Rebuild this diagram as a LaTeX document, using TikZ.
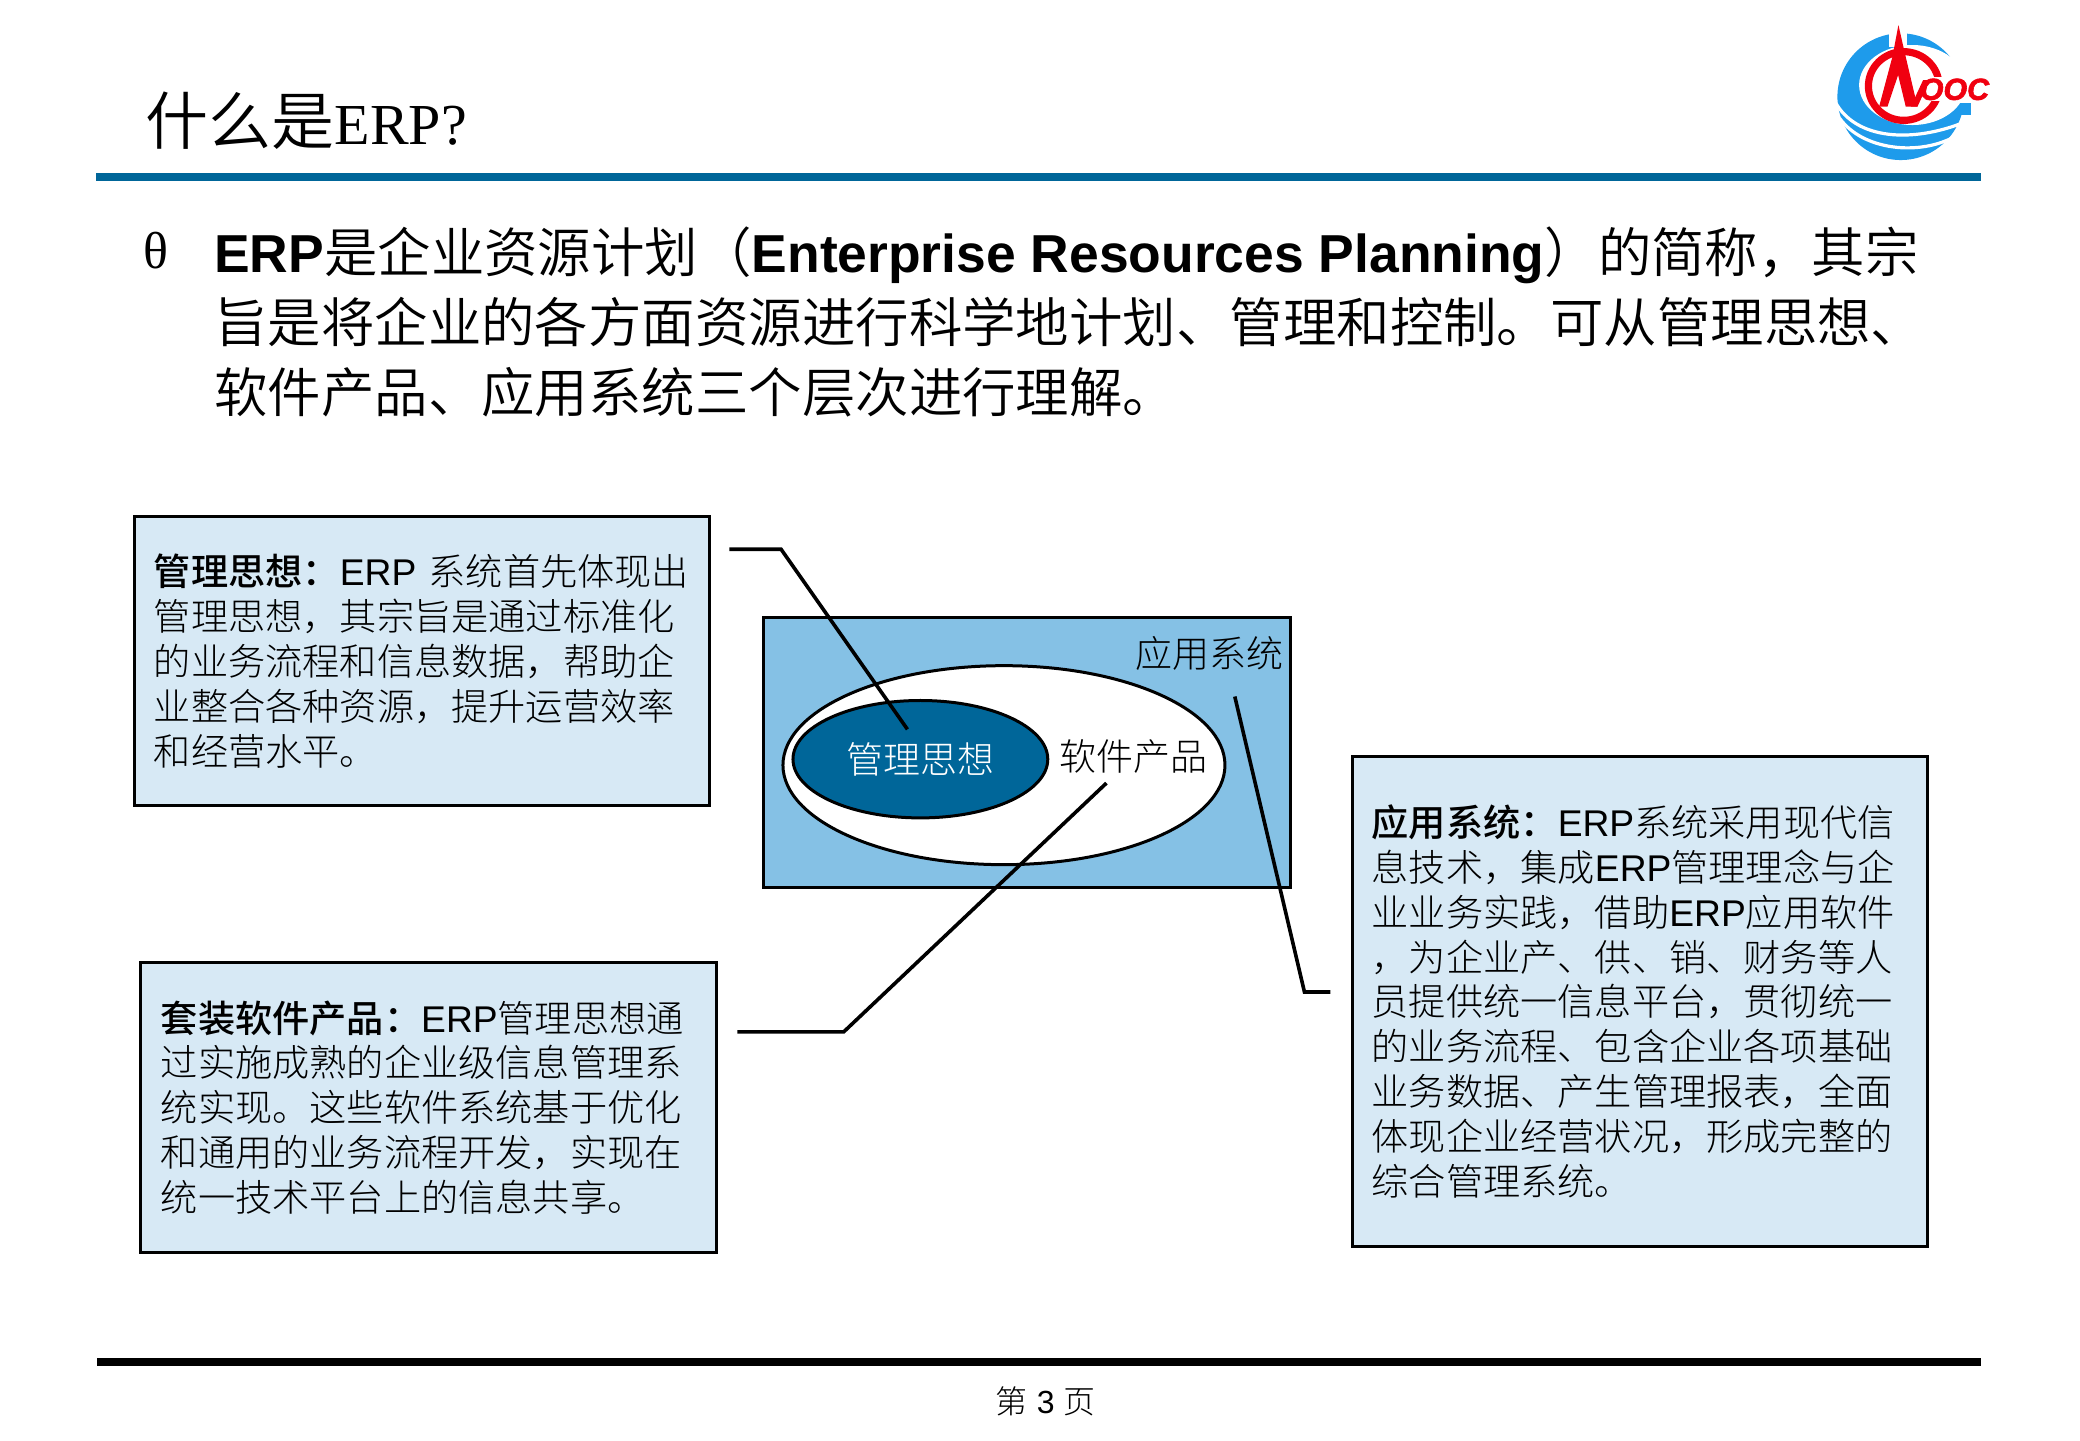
\documentclass[tikz,border=0pt]{standalone}
\usepackage{fontspec}
\setmainfont{Liberation Sans}
\newfontfamily\cjk{Noto Sans CJK SC Light}
\newfontfamily\cjkd{Noto Sans CJK SC DemiLight}
\newfontfamily\cjkb{Noto Sans CJK SC Medium}
\newfontfamily\serifl{Liberation Serif}
\newfontfamily\logofont[FakeBold=2]{Liberation Sans Bold Italic}
\newcommand{\C}[1]{{\cjk #1}}
\newcommand{\D}[1]{{\cjkd #1}}
\newcommand{\CB}[1]{{\cjkb #1}}
\definecolor{deepblue}{HTML}{006699}
\definecolor{midblue}{HTML}{85C1E5}
\definecolor{paleblue}{HTML}{D7E9F5}
\definecolor{logoblue}{HTML}{1E9BEB}
\definecolor{logored}{HTML}{F00010}
\tikzset{
  note/.style={draw=black,line width=1.6pt,fill=paleblue,rectangle,inner sep=0pt,align=left,
    font=\fontsize{18.6}{22.4}\selectfont},
  link/.style={draw=black,line width=1.8pt,line join=miter},
  blob/.style={draw=black,line width=1.5pt,ellipse},
  caption/.style={inner sep=0pt,font=\fontsize{18.5}{22}\selectfont}
}
\usetikzlibrary{shapes.geometric}
\begin{document}
\begin{tikzpicture}[x=0.4975pt,y=-0.4975pt]
\useasboundingbox (0,0) rectangle (2090.45,1447.24);
\fill[white] (0,0) rectangle (2090.45,1447.24);
% title
\node[anchor=base west,inner sep=0pt] (title) at (146,145)
  {\fontsize{31.5}{36}\selectfont\D{什么是}\serifl\fontsize{29}{36}\selectfont ERP?};
\fill[deepblue] (96,174) rectangle (1991,182);
\fill[black] (97,1365) rectangle (1991,1373);
\node[inner sep=0pt] (page) at (1051,1408) {\fontsize{16}{18}\selectfont\C{第} 3 \C{页}};
% bullet
\node[anchor=base west,inner sep=0pt] (bullet) at (144,270) {\serifl\fontsize{26}{30}\selectfont θ};
\node[anchor=west,inner sep=0pt,align=left,font=\fontsize{26.72}{35.2}\selectfont] (intro) at (215,323.5)
 {\textbf{ERP}\D{是企业资源计划（}\textbf{Enterprise Resources Planning}\D{）的简称，其宗}\\
  \D{旨是将企业的各方面资源进行科学地计划、管理和控制。可从管理思想、}\\
  \D{软件产品、应用系统三个层次进行理解。}};
% diagram
\node[draw=black,line width=1.5pt,fill=midblue,minimum width=263.7pt,minimum height=134.8pt,inner sep=0pt] (app) at (1032,756.5) {};
\node[blob,fill=white,minimum width=221pt,minimum height=99.5pt,inner sep=0pt] (soft) at (1009,769) {};
\node[blob,fill=deepblue,minimum width=127.4pt,minimum height=58.7pt,inner sep=0pt] (idea) at (925,763) {};
\node[caption,text=white] (ideal) at (925,763) {\C{管理思想}};
\node[caption] (softl) at (1139,760) {\C{软件产品}};
\node[caption] (appl) at (1216,657) {\C{应用系统}};
% notes
\node[note,minimum width=287.5pt,minimum height=144.8pt,text width=268pt,yshift=-0.2pt] (n1) at (424,664)
 {\CB{管理思想：}ERP~\C{系统首先体现出}\\
  \C{管理思想，其宗旨是通过标准化}\\
  \C{的业务流程和信息数据，帮助企}\\
  \C{业整合各种资源，提升运营效率}\\
  \C{和经营水平。}};
\node[note,minimum width=288pt,minimum height=144.8pt,text width=268pt] (n2) at (431,1113)
 {\CB{套装软件产品：}ERP\C{管理思想通}\\
  \C{过实施成熟的企业级信息管理系}\\
  \C{统实现。这些软件系统基于优化}\\
  \C{和通用的业务流程开发，实现在}\\
  \C{统一技术平台上的信息共享。}};
\node[note,minimum width=287.5pt,minimum height=244.8pt,text width=268pt] (n3) at (1648,1006.5)
 {\CB{应用系统：}ERP\C{系统采用现代信}\\
  \C{息技术，集成}ERP\C{管理理念与企}\\
  \C{业业务实践，借助}ERP\C{应用软件}\\
  \C{，为企业产、供、销、财务等人}\\
  \C{员提供统一信息平台，贯彻统一}\\
  \C{的业务流程、包含企业各项基础}\\
  \C{业务数据、产生管理报表，全面}\\
  \C{体现企业经营状况，形成完整的}\\
  \C{综合管理系统。}};
% connectors
\coordinate (a1) at (733,552); \coordinate (a2) at (785,552); \coordinate (a3) at (912,733);
\coordinate (b1) at (741,1037); \coordinate (b2) at (848,1037); \coordinate (b3) at (1112,787);
\coordinate (c1) at (1337,997); \coordinate (c2) at (1311,997); \coordinate (c3) at (1241,700);
\draw[link] (a1) -- (a2) -- (a3);
\draw[link] (b1) -- (b2) -- (b3);
\draw[link] (c1) -- (c2) -- (c3);
% logo
\begin{scope}[shift={(1788,0)},x=0.1667pt,y=-0.1667pt]
  \fill[logoblue] (365,290) circle[radius=190];
  \fill[logoblue] (470,310) rectangle (575,345);
  \fill[white] (400,255) ellipse[x radius=160,y radius=120];
  \fill[white] (490,215) rectangle (600,310);
  \fill[white] (330,95) rectangle (385,140);
  \draw[white,line width=1.6pt] (168,305) .. controls (230,420) and (400,430) .. (560,365);
  \draw[white,line width=1.6pt] (182,355) .. controls (250,450) and (420,470) .. (530,408);
  \draw[logored,line width=3.6pt] (374,258) ellipse[x radius=106,y radius=103];
  \fill[white] (432,232) rectangle (640,302);
  \fill[logored] (358,75) -- (375,150) -- (415,320) -- (380,320) -- (357,225) -- (325,320) -- (300,320) -- (340,170) -- cycle;
  \fill[logored] (395,320) -- (432,240) -- (452,240) -- (415,320) -- cycle;
  \node[inner sep=0pt,text=logored] (ooc) at (526,268) {\fontsize{15.2}{16}\selectfont\logofont OOC};
\end{scope}
\end{tikzpicture}
\end{document}
